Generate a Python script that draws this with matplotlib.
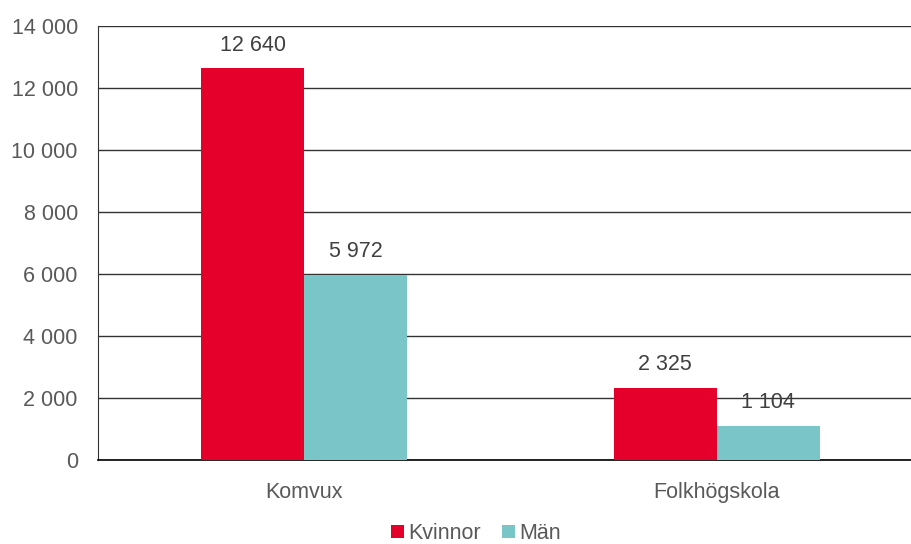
import numpy as np
import matplotlib
matplotlib.use("Agg")
import matplotlib.pyplot as plt

categories = ["Komvux", "Folkhögskola"]
kvinnor = [12640, 2325]
man = [5972, 1104]
series_names = ["Kvinnor", "Män"]
yticks = [0, 2000, 4000, 6000, 8000, 10000, 12000, 14000]

red = "#E4002B"
teal = "#79C5C7"
grey = "#595959"

plt.rcParams['font.family'] = ['Liberation Sans', 'DejaVu Sans']

def fmt(v):
    return f"{v:,}".replace(",", " ")

fig = plt.figure(figsize=(9.12, 5.44), dpi=100)
ax = fig.add_axes([98 / 912, 1 - 460 / 544, 1 - 98 / 912, (460 - 26) / 544])

x = np.arange(len(categories))
w = 0.25
b1 = ax.bar(x - w / 2, kvinnor, w, color=red, label=series_names[0], zorder=3)
b2 = ax.bar(x + w / 2, man, w, color=teal, label=series_names[1], zorder=3)

for bars, vals in [(b1, kvinnor), (b2, man)]:
    for bar, v in zip(bars, vals):
        ax.annotate(fmt(v), (bar.get_x() + bar.get_width() / 2, v),
                    xytext=(0, 9), textcoords="offset points",
                    ha="center", va="bottom", fontsize=15.5, color="#404040")

ax.set_ylim(0, 14000)
ax.set_xlim(-0.5, 1.473)
ax.set_yticks(yticks)
ax.set_yticklabels([fmt(t) for t in yticks])
ax.set_xticks(x)
ax.set_xticklabels(categories)
ax.tick_params(axis="both", length=0, labelsize=15.5, labelcolor=grey)
ax.tick_params(axis="y", pad=14.5)
ax.tick_params(axis="x", pad=16)
ax.yaxis.grid(True, color="#333333", linewidth=1.0, zorder=0)

for s in ["top", "right"]:
    ax.spines[s].set_visible(False)
ax.spines["left"].set_color("#333333")
ax.spines["bottom"].set_color("#000000")
ax.spines["bottom"].set_linewidth(1.2)

leg = fig.legend(loc="lower center", bbox_to_anchor=(0.522, -0.036), ncol=2, frameon=False,
                 fontsize=15.5, handlelength=0.6, handleheight=0.6, handletextpad=0.2,
                 columnspacing=1.0, labelcolor=grey)

fig.savefig("out.png", dpi=100)
